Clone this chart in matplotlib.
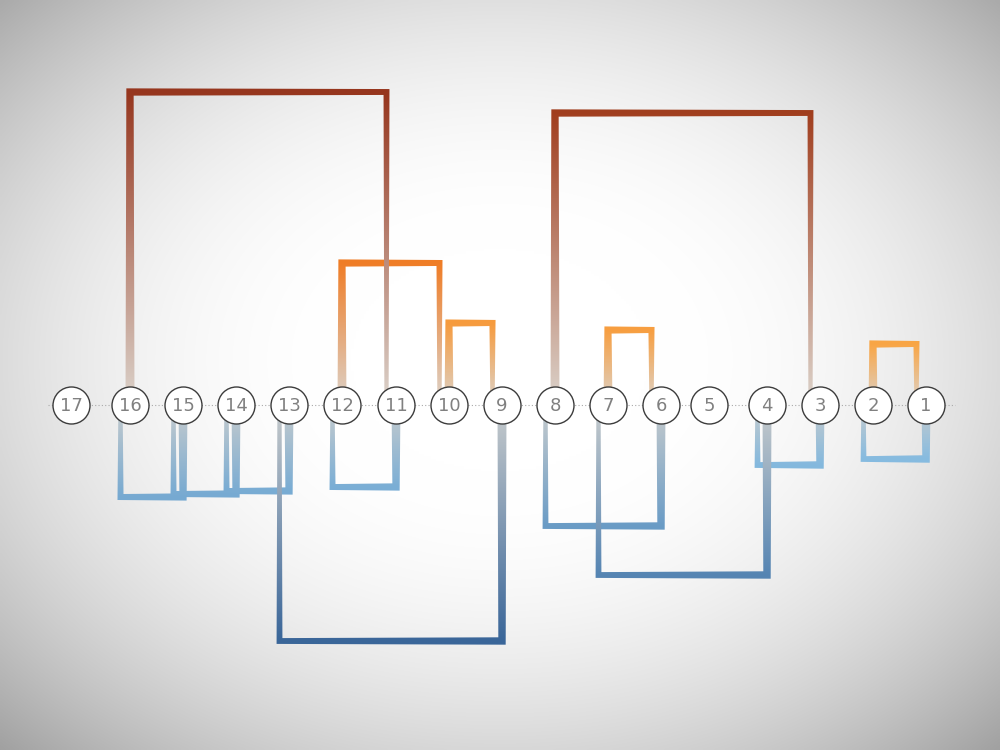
import numpy as np
import matplotlib
matplotlib.use("Agg")
import matplotlib.pyplot as plt
from matplotlib.patches import Polygon
from matplotlib.colors import LinearSegmentedColormap, to_rgb

# nodes, left to right, and their spot on the axis line
nodes = [17, 16, 15, 14, 13, 12, 11, 10, 9, 8, 7, 6, 5, 4, 3, 2, 1]
node_x = [71, 130, 183, 236, 289, 342, 396, 449, 502, 555, 608, 661, 709, 767, 820, 873, 926]

# arcs above the axis (source -> target, height)
top_src = [16, 12, 10, 8, 7, 2]
top_dst = [11, 10, 9, 3, 6, 1]
top_h = [313, 142, 82, 292, 75, 61]

# arcs below the axis (source -> target, depth)
bot_src = [15, 14, 13, 11, 9, 6, 4, 3, 1]
bot_dst = [16, 15, 14, 12, 13, 8, 7, 4, 2]
bot_h = [92, 89, 86, 82, 236, 121, 170, 60, 54]

W, H = 1000, 750
BASE = 405.0     # px from top of the axis line

fig = plt.figure(figsize=(10, 7.5), dpi=100)
ax = fig.add_axes([0, 0, 1, 1])
ax.set_xlim(0, W)
ax.set_ylim(-(H - BASE), BASE)
ax.axis("off")

# radial background
gx, gy = np.meshgrid(np.linspace(0, W, 400), np.linspace(0, H, 300))
r = np.sqrt(((gx - 500) / 500) ** 2 + ((gy - 360) / 375) ** 2)
v = (255 - 72 * np.clip(r - 0.3, 0, None) ** 2) / 255
ax.imshow(np.dstack([v, v, v]), extent=(0, W, -(H - BASE), BASE),
          origin="upper", aspect="auto", zorder=0, interpolation="bilinear")

pos = dict(zip(nodes, node_x))

top_cmap = LinearSegmentedColormap.from_list(
    "top", [(0, "#f9a646"), (0.33, "#ef7c26"), (1, "#96361e")])
bot_cmap = LinearSegmentedColormap.from_list(
    "bot", [(0, "#86bbe0"), (1, "#3a6699")])

W0, W1 = 9.0, 4.2


def draw_arc(src, dst, h, color, base_col, z):
    xs = pos[src]
    xt = pos[dst] - 9.5
    sx = 1 if xt > xs else -1
    sy = 1 if h > 0 else -1
    L = 2 * abs(h) + abs(xt - xs)
    wa = W0 + (W1 - W0) * abs(h) / L
    wb = W0 + (W1 - W0) * (abs(h) + abs(xt - xs)) / L
    poly = [
        (xs - sx * W0 / 2, 0),
        (xs - sx * wa / 2, h + sy * wa / 2),
        (xt + sx * wb / 2, h + sy * wb / 2),
        (xt + sx * W1 / 2, 0),
        (xt - sx * W1 / 2, 0),
        (xt - sx * wb / 2, h - sy * wb / 2),
        (xs + sx * wa / 2, h - sy * wa / 2),
        (xs + sx * W0 / 2, 0),
    ]
    patch = Polygon(poly, closed=True, facecolor="none", edgecolor="none",
                    joinstyle="round", zorder=z)
    ax.add_patch(patch)
    yy = np.linspace(0, h + sy * W0, 200)
    f = np.clip(yy / h, 0, 1)[:, None]
    c0 = np.array(to_rgb(base_col))
    c1 = np.array(to_rgb(color))
    img = (c0 * (1 - f) + c1 * f)[:, None, :]
    lo, hi = min(0, yy[-1]), max(0, yy[-1])
    x_lo, x_hi = min(xs, xt) - 8, max(xs, xt) + 8
    im = ax.imshow(img if sy < 0 else img[::-1], extent=(x_lo, x_hi, lo, hi),
                   aspect="auto", zorder=z, interpolation="bilinear")
    im.set_clip_path(patch)


for s, d, h in zip(top_src, top_dst, top_h):
    draw_arc(s, d, h, top_cmap((h - 60) / 253), "#dcd4cc", 2 + h / 1000)

for s, d, h in zip(bot_src, bot_dst, bot_h):
    draw_arc(s, d, -h, bot_cmap((h - 54) / 182), "#c8cccd", 2 + h / 1000)

ax.set_xlim(0, W)
ax.set_ylim(-(H - BASE), BASE)

# axis line
ax.plot([48, 955], [0, 0], linestyle=(0, (1, 2)), color="#aaaaaa",
        lw=0.8, zorder=1)

# node circles
ax.scatter(node_x, [0] * len(nodes), s=(37 * 0.72) ** 2, facecolor="white",
           edgecolor="#3c3c3c", linewidth=1.0, zorder=5)
for n in nodes:
    ax.text(pos[n], -1, str(n), ha="center", va="center", fontsize=13,
            color="#808080", family="DejaVu Sans", zorder=6)

fig.savefig("out.png", dpi=100)
